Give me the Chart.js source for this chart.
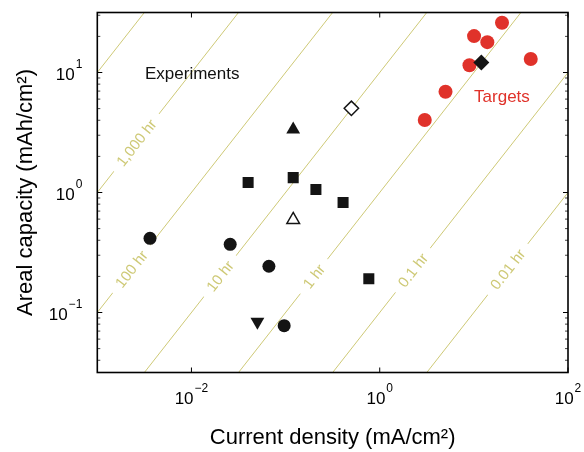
<!DOCTYPE html>
<html><head><meta charset="utf-8">
<script src="https://cdn.jsdelivr.net/npm/chart.js@4/dist/chart.umd.min.js"></script>
<style>html,body{margin:0;padding:0;background:#fff}#wrap{width:584px;height:452px;position:relative}</style>
</head><body><div id="wrap"><canvas id="c"></canvas></div>
<script>
const FONT = "'Liberation Sans', Arial, Helvetica, sans-serif";

// ---- data ----
const circlesX = [0.00363, 0.0258, 0.0665, 0.0966];
const circlesY = [0.415, 0.37, 0.243, 0.0776];
const squaresX = [0.040, 0.1205, 0.21, 0.408, 0.766];
const squaresY = [1.21, 1.33, 1.06, 0.826, 0.191];
const triUpFilledX = [0.1205];
const triUpFilledY = [3.35];
const triUpOpenX = [0.1205];
const triUpOpenY = [0.593];
const triDownX = [0.0502];
const triDownY = [0.0838];
const diamondOpenX = [0.50];
const diamondOpenY = [5.03];
const diamondFilledX = [12.0];
const diamondFilledY = [12.1];
const targetsX = [3.01, 5.0, 8.98, 10.05, 13.9, 19.9, 40.2];
const targetsY = [4.02, 6.92, 11.5, 20.1, 17.9, 26.0, 12.95];

// constant-time guide lines (capacity = current x hours)
const timeHours = [10000, 1000, 100, 10, 1, 0.1, 0.01];
const timeLabels = [null, '1,000 hr', '100 hr', '10 hr', '1 hr', '0.1 hr', '0.01 hr'];
const timeLabelAtX = [null, 0.0026, 0.0023, 0.0201, 0.2, 2.25, 22.9];

const xTicks = [1e-2, 1, 1e2];
const xTickBase = ['10', '10', '10'];
const xTickExp = ['\u22122', '0', '2'];
const yTicks = [0.1, 1, 10];
const yTickBase = ['10', '10', '10'];
const yTickExp = ['\u22121', '0', '1'];

const X_MIN = 1e-3, X_MAX = 1e2;
const Y_MIN = Math.pow(10, -1.5), Y_MAX = Math.pow(10, 1.5);

const notes = [
  {text: 'Experiments', x: 0.00321, y: 8.83, color: '#111111'},
  {text: 'Targets', x: 10.05, y: 5.64, color: '#e0322a'}
];

const GUIDE = 'rgb(206,201,118)';
const BLACK = '#141414';
const RED = '#e0322a';

const pts = (xs, ys) => xs.map((v, i) => ({x: v, y: ys[i]}));

const datasets = [];
function marker(xs, ys, style, r, bg, border, bw, rot) {
  datasets.push({
    data: pts(xs, ys), pointStyle: style, pointRadius: r, pointHoverRadius: r,
    backgroundColor: bg, borderColor: border, borderWidth: bw, pointBorderWidth: bw,
    rotation: rot || 0, showLine: false, order: 0
  });
}
marker(circlesX, circlesY, 'circle', 6.5, BLACK, BLACK, 0);
marker(squaresX, squaresY, 'rect', 7.8, BLACK, BLACK, 0);
marker(triUpFilledX, triUpFilledY, 'triangle', 8, BLACK, BLACK, 0);
marker(triUpOpenX, triUpOpenY, 'triangle', 7.3, '#ffffff', BLACK, 1.5);
marker(triDownX, triDownY, 'triangle', 8, BLACK, BLACK, 0, 180);
marker(diamondOpenX, diamondOpenY, 'rectRot', 7.2, '#ffffff', BLACK, 1.5);
marker(diamondFilledX, diamondFilledY, 'rectRot', 8, BLACK, BLACK, 0);
marker(targetsX, targetsY, 'circle', 7, RED, RED, 0);

timeHours.forEach((h, i) => {
  datasets.push({
    data: [{x: X_MIN, y: h * X_MIN}, {x: X_MAX, y: h * X_MAX}],
    showLine: true, pointRadius: 0, borderColor: GUIDE, borderWidth: 1,
    order: 10, hrLabel: timeLabels[i], hrAt: timeLabelAtX[i], hr: h
  });
});

const guideLabels = {
  id: 'guideLabels',
  afterDatasetDraw(chart, args) {
    const ds = chart.data.datasets[args.index];
    if (!ds.hrLabel) return;
    const {ctx, scales: {x, y}} = chart;
    const px = x.getPixelForValue(ds.hrAt);
    const py = y.getPixelForValue(ds.hr * ds.hrAt);
    const p2x = x.getPixelForValue(ds.hrAt * 10);
    const p2y = y.getPixelForValue(ds.hr * ds.hrAt * 10);
    const ang = Math.atan2(p2y - py, p2x - px);
    ctx.save();
    ctx.beginPath();
    ctx.rect(chart.chartArea.left, chart.chartArea.top, chart.chartArea.right - chart.chartArea.left, chart.chartArea.bottom - chart.chartArea.top);
    ctx.clip();
    ctx.translate(px, py);
    ctx.rotate(ang);
    ctx.font = '15px ' + FONT;
    const w = ctx.measureText(ds.hrLabel).width;
    ctx.fillStyle = '#ffffff';
    ctx.fillRect(-w / 2 - 9, -3, w + 18, 6);
    ctx.fillStyle = GUIDE;
    ctx.textAlign = 'center';
    ctx.textBaseline = 'middle';
    ctx.fillText(ds.hrLabel, 0, 1);
    ctx.restore();
  }
};

const frame = {
  id: 'frame',
  afterDatasetsDraw(chart) {
    const {ctx, chartArea: a, scales: {x, y}} = chart;
    ctx.save();
    ctx.strokeStyle = '#000';
    ctx.lineWidth = 1;
    const seg = (x1, y1, x2, y2) => { ctx.beginPath(); ctx.moveTo(x1, y1); ctx.lineTo(x2, y2); ctx.stroke(); };
    xTicks.forEach(v => {
      const p = x.getPixelForValue(v);
      seg(p, a.bottom, p, a.bottom - 5);
      seg(p, a.top, p, a.top + 5);
    });
    for (let e = -2; e <= 1; e++) {
      for (let m = 1; m <= 9; m++) {
        const v = m * Math.pow(10, e);
        if (v < Y_MIN || v > Y_MAX) continue;
        const p = y.getPixelForValue(v);
        const len = m === 1 ? 5 : 3;
        ctx.strokeStyle = m === 1 ? '#000' : '#444';
        seg(a.left, p, a.left + len, p);
        seg(a.right, p, a.right - len, p);
      }
    }
    ctx.strokeStyle = '#000';
    ctx.lineWidth = 1.6;
    ctx.strokeRect(a.left, a.top, a.right - a.left, a.bottom - a.top);
    ctx.font = '17px ' + FONT;
    ctx.textAlign = 'left';
    ctx.textBaseline = 'alphabetic';
    notes.forEach(n => {
      ctx.fillStyle = n.color;
      ctx.fillText(n.text, x.getPixelForValue(n.x), y.getPixelForValue(n.y));
    });

    // tick labels: "10" with raised exponent
    ctx.fillStyle = '#000';
    const baseFont = '17px ' + FONT, expFont = '12px ' + FONT;
    xTicks.forEach((v, i) => {
      const p = x.getPixelForValue(v);
      ctx.font = baseFont; const wb = ctx.measureText(xTickBase[i]).width;
      ctx.font = expFont; const we = ctx.measureText(xTickExp[i]).width;
      const x0 = p - (wb + we + 1) / 2;
      const yb = a.bottom + 31;
      ctx.font = baseFont; ctx.fillText(xTickBase[i], x0, yb);
      ctx.font = expFont; ctx.fillText(xTickExp[i], x0 + wb + 1, yb - 12);
    });
    yTicks.forEach((v, i) => {
      const p = y.getPixelForValue(v);
      ctx.font = baseFont; const wb = ctx.measureText(yTickBase[i]).width;
      ctx.font = expFont; const we = ctx.measureText(yTickExp[i]).width;
      const xr = a.left - 15;
      const x0 = xr - we - 1 - wb;
      const yb = p + 7.3;
      ctx.font = baseFont; ctx.fillText(yTickBase[i], x0, yb);
      ctx.font = expFont; ctx.fillText(yTickExp[i], x0 + wb + 1, yb - 12);
    });
    ctx.restore();
  }
};

const zeroPad = s => { s.paddingTop = 0; s.paddingBottom = 0; s.paddingLeft = 0; s.paddingRight = 0; };

new Chart(document.getElementById('c'), {
  type: 'scatter',
  data: {datasets},
  plugins: [guideLabels, frame],
  options: {
    responsive: true, maintainAspectRatio: false, animation: false, events: [],
    layout: {padding: {left: 0, right: 16, top: 12.5, bottom: 0}},
    plugins: {legend: {display: false}, tooltip: {enabled: false}},
    scales: {
      x: {
        type: 'logarithmic', min: X_MIN, max: X_MAX,
        grid: {display: false, drawTicks: false}, border: {display: false},
        afterBuildTicks: s => { s.ticks = xTicks.map(v => ({value: v, major: true})); },
        afterFit: s => { s.height = 79.5; zeroPad(s); },
        ticks: {display: false},
        title: {display: true, text: 'Current density (mA/cm\u00B2)', color: '#000',
          font: {family: FONT, size: 22}, padding: {top: 0, bottom: 1}}
      },
      y: {
        type: 'logarithmic', min: Y_MIN, max: Y_MAX,
        grid: {display: false, drawTicks: false}, border: {display: false},
        afterBuildTicks: s => { s.ticks = yTicks.map(v => ({value: v, major: true})); },
        afterFit: s => { s.width = 97.3; zeroPad(s); },
        ticks: {display: false},
        title: {display: true, text: 'Areal capacity (mAh/cm\u00B2)', color: '#000',
          font: {family: FONT, size: 22}, padding: {top: 13, bottom: 0}}
      }
    }
  }
});
</script></body></html>
